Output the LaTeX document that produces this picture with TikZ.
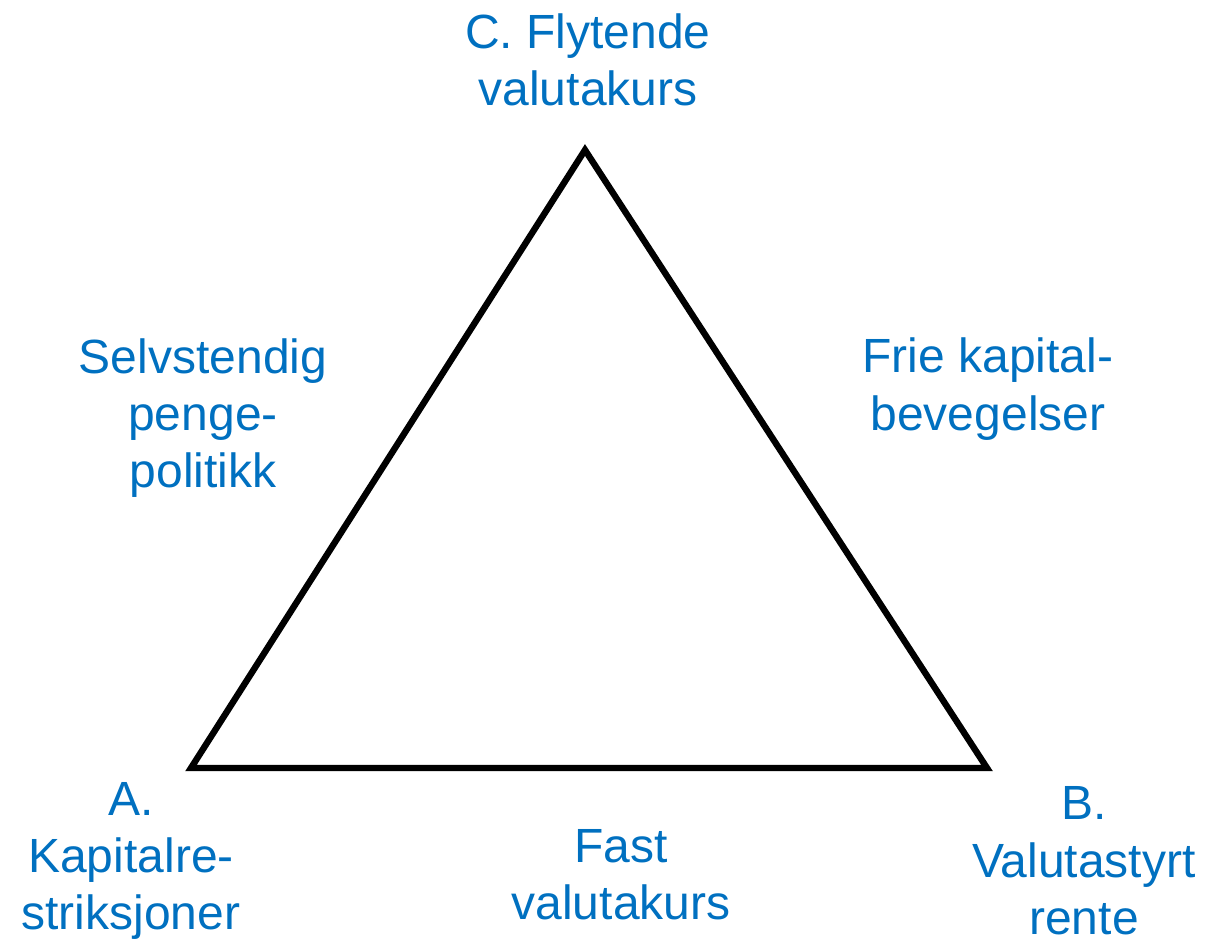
\documentclass[tikz,border=0pt]{standalone}
\usepackage{fontspec}
\setmainfont{Liberation Sans}
\usepackage{xcolor}
\definecolor{trilemmablue}{RGB}{0,112,192}

\tikzset{
	corner/.style={coordinate},
	label text/.style={text=trilemmablue, align=center, inner sep=0.75pt,
		font=\fontsize{36}{43}\selectfont}
}

\begin{document}
\begin{tikzpicture}[x=0.75pt,y=0.75pt,yscale=-1,xscale=1]
		\useasboundingbox (0,0) rectangle (1220,941);
		
		% Corners of the triangle
		\node [corner] (cornerA) at (191,768) {};
		\node [corner] (cornerB) at (987,768) {};
		\node [corner] (cornerC) at (585,150) {};
		
		%Shape: Triangle
		\draw [line width=4.8pt, line join=miter] (cornerA) -- (cornerB) -- (cornerC) -- cycle ;
		
		% Text Node
		\node [label text] (labelC) at (588,60) {C. Flytende\\valutakurs};
		% Text Node
		\node [label text] (labelLeft) at (203,418) {Selvstendig\\penge-\\politikk};
		% Text Node
		\node [label text] (labelRight) at (988,389) {Frie kapital-\\bevegelser};
		% Text Node
		\node [label text] (labelA) at (131,861) {A.\\Kapitalre-\\striksjoner};
		% Text Node
		\node [label text] (labelBottom) at (621,875) {Fast\\valutakurs};
		% Text Node
		\node [label text] (labelB) at (1084,861) {B.\\Valutastyrt\\rente};
		
	\end{tikzpicture}
\end{document}
